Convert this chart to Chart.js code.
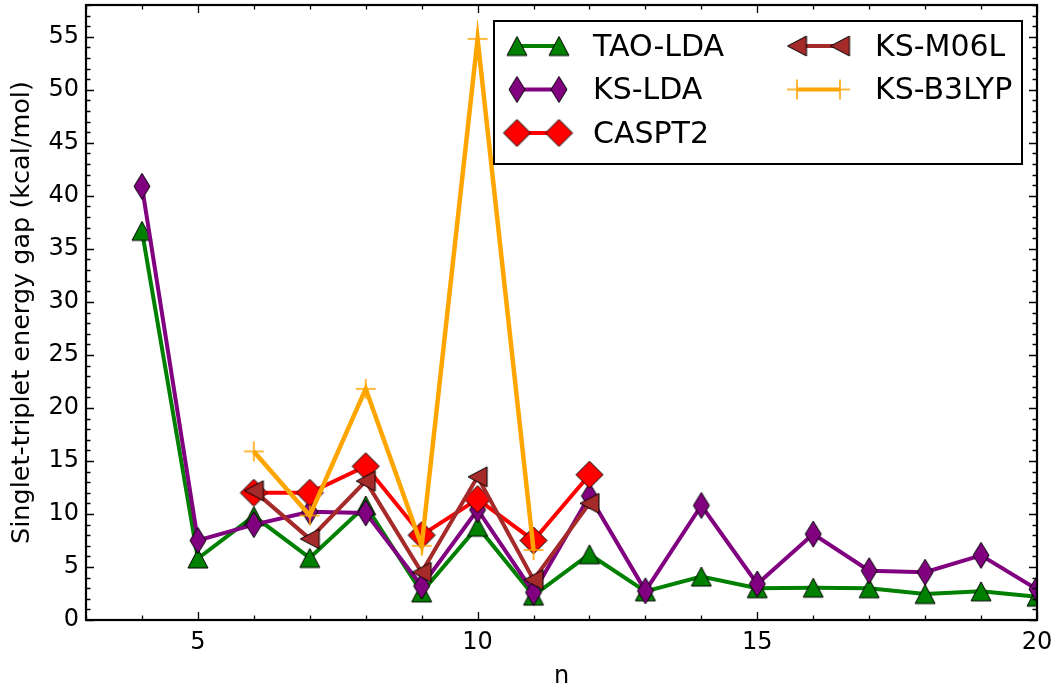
<!DOCTYPE html>
<html>
<head>
<meta charset="utf-8">
<script src="https://cdn.jsdelivr.net/npm/chart.js@4.4.0/dist/chart.umd.min.js"></script>
<style>
html,body{margin:0;padding:0;background:#fff;}
#wrap{width:1060px;height:692px;position:relative;}
</style>
</head>
<body>
<div id="wrap"><canvas id="c" width="1060" height="692"></canvas></div>
<script>
// ---------- data ----------
const nValues   = [4, 5, 6, 7, 8, 9, 10, 11, 12, 13, 14, 15, 16, 17, 18, 19, 20];
const taoLda    = [36.7, 5.8, 9.8, 5.85, 10.8, 2.6, 8.8, 2.3, 6.2, 2.7, 4.1, 3.0, 3.05, 3.0, 2.45, 2.7, 2.2];
const ksLda     = [40.9, 7.5, 9.0, 10.2, 10.1, 3.2, 10.4, 2.6, 11.7, 2.75, 10.8, 3.4, 8.1, 4.65, 4.5, 6.1, 2.9];
const casN      = [6, 7, 8, 9, 10, 11, 12];
const caspt2    = [12.0, 12.0, 14.5, 8.0, 11.4, 7.5, 13.7];
const m06lN     = [6, 7, 8, 9, 10, 11, 12];
const ksM06l    = [12.2, 7.65, 13.1, 4.5, 13.5, 3.8, 11.0];
const b3lypN    = [6, 7, 8, 9, 10, 11];
const ksB3lyp   = [15.9, 9.85, 21.8, 7.0, 54.8, 6.6];
const seriesLabels = ['TAO-LDA', 'KS-LDA', 'CASPT2', 'KS-M06L', 'KS-B3LYP'];
const xTickValues = [5, 10, 15, 20];
const yTickValues = [0, 5, 10, 15, 20, 25, 30, 35, 40, 45, 50, 55];
const xRange = [3, 20];
const yRange = [0, 58];
const xMinorStep = 1;
const yMinorStep = 1;
const xTitle = 'n';
const yTitle = 'Singlet-triplet energy gap (kcal/mol)';

// ---------- markers ----------
function makeMarker(w, h, fill, pathFn, stroke, lw) {
  const pad = 2;
  const c = document.createElement('canvas');
  c.width = Math.ceil(w + pad * 2);
  c.height = Math.ceil(h + pad * 2);
  const g = c.getContext('2d');
  g.translate(c.width / 2, c.height / 2);
  g.beginPath();
  pathFn(g, w / 2, h / 2);
  if (fill) { g.fillStyle = fill; g.fill(); }
  g.lineWidth = lw;
  g.strokeStyle = stroke;
  g.lineJoin = 'miter';
  g.stroke();
  return c;
}
const triUp = (g, hw, hh) => { g.moveTo(0, -hh); g.lineTo(hw, hh); g.lineTo(-hw, hh); g.closePath(); };
const triLeft = (g, hw, hh) => { g.moveTo(-hw, 0); g.lineTo(hw, -hh); g.lineTo(hw, hh); g.closePath(); };
const diamond = (g, hw, hh) => { g.moveTo(0, -hh); g.lineTo(hw, 0); g.lineTo(0, hh); g.lineTo(-hw, 0); g.closePath(); };
const plus = (g, hw, hh) => { g.moveTo(-hw, 0); g.lineTo(hw, 0); g.moveTo(0, -hh); g.lineTo(0, hh); };

const colors = ['#008000', '#800080', '#ff0000', '#a52a2a', '#ffa500'];
const markers = [
  makeMarker(20, 19, colors[0], triUp, '#000', 1),
  makeMarker(16, 26, colors[1], diamond, '#000', 1),
  makeMarker(27, 27, colors[2], diamond, '#000', 1),
  makeMarker(19, 20, colors[3], triLeft, '#000', 1),
  makeMarker(20, 20, null, plus, colors[4], 1.6)
];

const toXY = (xs, ys) => xs.map((x, i) => ({x: x, y: ys[i]}));
const seriesData = [
  toXY(nValues, taoLda),
  toXY(nValues, ksLda),
  toXY(casN, caspt2),
  toXY(m06lN, ksM06l),
  toXY(b3lypN, ksB3lyp)
];

const datasets = seriesData.map((d, i) => ({
  label: seriesLabels[i],
  data: d,
  borderColor: colors[i],
  backgroundColor: colors[i],
  borderWidth: i === 4 ? 4.5 : 4,
  pointStyle: markers[i],
  pointRadius: 10,
  pointHoverRadius: 10,
  tension: 0,
  order: 5 - i
}));

// ---------- plugins ----------
const frameTicks = {
  id: 'frameTicks',
  afterDatasetsDraw(chart) {
    const {ctx, chartArea: a, scales: {x, y}} = chart;
    ctx.save();
    ctx.strokeStyle = '#000';
    ctx.lineWidth = 1.3;
    ctx.beginPath();
    for (let v = Math.ceil(x.min); v <= x.max + 1e-9; v += xMinorStep) {
      const px = Math.round(x.getPixelForValue(v)) + 0.5;
      const len = xTickValues.includes(v) ? 8 : 4.5;
      ctx.moveTo(px, a.bottom); ctx.lineTo(px, a.bottom - len);
      ctx.moveTo(px, a.top); ctx.lineTo(px, a.top + len);
    }
    for (let v = Math.ceil(y.min); v <= y.max + 1e-9; v += yMinorStep) {
      const py = Math.round(y.getPixelForValue(v)) + 0.5;
      const len = yTickValues.includes(v) ? 8 : 4.5;
      ctx.moveTo(a.left, py); ctx.lineTo(a.left + len, py);
      ctx.moveTo(a.right, py); ctx.lineTo(a.right - len, py);
    }
    ctx.stroke();
    ctx.lineWidth = 2.2;
    ctx.strokeRect(a.left, a.top, a.right - a.left, a.bottom - a.top);
    ctx.restore();
  }
};

const customLegend = {
  id: 'customLegend',
  afterDraw(chart) {
    const ctx = chart.ctx;
    ctx.save();
    const box = {x: 494, y: 21, w: 528, h: 143};
    ctx.fillStyle = '#fff';
    ctx.fillRect(box.x, box.y, box.w, box.h);
    ctx.lineWidth = 2;
    ctx.strokeStyle = '#000';
    ctx.strokeRect(box.x, box.y, box.w, box.h);
    const cols = [{m1: 517, m2: 559, t: 593}, {m1: 797, m2: 840, t: 875}];
    const rows = [46, 89.5, 133];
    const place = [[0, 0], [0, 1], [0, 2], [1, 0], [1, 1]];
    ctx.font = '30px "DejaVu Sans"';
    ctx.textBaseline = 'alphabetic';
    ctx.textAlign = 'left';
    seriesLabels.forEach((lab, i) => {
      const c = cols[place[i][0]];
      const ry = rows[place[i][1]];
      ctx.strokeStyle = colors[i];
      ctx.lineWidth = 4;
      ctx.beginPath();
      ctx.moveTo(c.m1, ry); ctx.lineTo(c.m2, ry);
      ctx.stroke();
      const mk = markers[i];
      ctx.drawImage(mk, c.m1 - mk.width / 2, ry - mk.height / 2);
      ctx.drawImage(mk, c.m2 - mk.width / 2, ry - mk.height / 2);
      ctx.fillStyle = '#000';
      ctx.fillText(lab, c.t, ry + 9.5);
    });
    ctx.restore();
  }
};

Chart.defaults.font.family = '"DejaVu Sans"';
Chart.defaults.color = '#000';

new Chart(document.getElementById('c'), {
  type: 'line',
  data: {datasets: datasets},
  options: {
    responsive: false,
    animation: false,
    devicePixelRatio: 1,
    events: [],
    layout: {autoPadding: false, padding: {left: 0, right: 23, top: 5, bottom: 0}},
    plugins: {legend: {display: false}, tooltip: {enabled: false}},
    scales: {
      x: {
        type: 'linear',
        min: xRange[0], max: xRange[1],
        grid: {display: false, drawTicks: false},
        border: {display: false},
        ticks: {font: {size: 24}, padding: 8, maxRotation: 0, autoSkip: false},
        title: {display: true, text: xTitle, font: {size: 24}, padding: {top: 0, bottom: 1}},
        afterBuildTicks: s => { s.ticks = xTickValues.map(v => ({value: v})); },
        afterFit: s => { s.height = 72; s.paddingLeft = 0; s.paddingRight = 0; }
      },
      y: {
        type: 'linear',
        min: yRange[0], max: yRange[1],
        grid: {display: false, drawTicks: false},
        border: {display: false},
        ticks: {font: {size: 24, lineHeight: 0.4}, padding: 7, autoSkip: false},
        title: {display: true, text: yTitle, font: {size: 25.5}, padding: {top: 7, bottom: 0}},
        afterBuildTicks: s => { s.ticks = yTickValues.map(v => ({value: v})); },
        afterFit: s => { s.width = 86; s.paddingTop = 0; s.paddingBottom = 0; }
      }
    }
  },
  plugins: [frameTicks, customLegend]
});
</script>
</body>
</html>
